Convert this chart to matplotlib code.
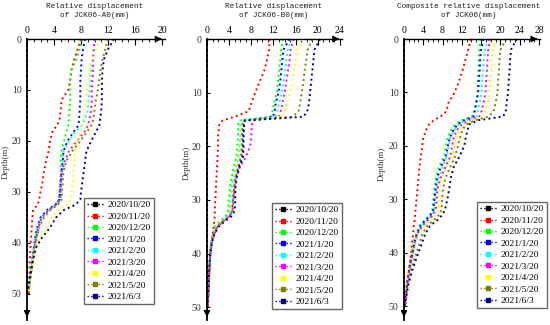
import matplotlib.pyplot as plt
from matplotlib.lines import Line2D
from matplotlib.ticker import MultipleLocator

plt.rcParams['font.family'] = 'Liberation Serif'

dates = ['2020/10/20', '2020/11/20', '2020/12/20', '2021/1/20', '2021/2/20',
         '2021/3/20', '2021/4/20', '2021/5/20', '2021/6/3']
colors = ['#000000', '#ff0000', '#00ff00', '#0000ff', '#00ffff',
          '#ff00ff', '#ffff00', '#808000', '#000080']

# JCK06-A0
depth_a = [0, 2, 4, 6, 8, 10, 12, 14, 16, 17, 18, 20, 22, 24, 26, 28, 30,
           31.5, 32.5, 33.5, 35, 37, 39, 41, 44, 47, 50]
a_1020 = [0, 0, 0, 0, 0, 0, 0, 0, 0, 0, 0, 0, 0, 0, 0, 0, 0, 0, 0, 0, 0, 0, 0, 0, 0, 0, 0]
a_1120 = [8.0, 7.5, 7.0, 6.6, 6.4, 6.1, 5.1, 5.0, 4.8, 4.4, 3.8, 3.4, 3.2, 2.8, 2.5, 2.3, 2.0,
          1.8, 1.6, 0.9, 0.8, 0.7, 0.6, 0.5, 0.4, 0.35, 0.3]
a_1220 = [8.2, 7.8, 7.3, 6.6, 6.4, 6.4, 6.4, 6.3, 6.2, 6.1, 5.9, 5.5, 5.1, 5.0, 5.0, 4.9, 4.8,
          4.7, 4.3, 3.2, 2.2, 1.6, 1.3, 1.1, 0.8, 0.5, 0.2]
a_0120 = [8.6, 8.3, 8.1, 8.0, 7.9, 7.9, 7.9, 7.8, 7.7, 7.6, 7.0, 6.0, 5.4, 5.3, 5.1, 5.0, 4.9,
          4.8, 4.2, 3.0, 2.0, 1.5, 1.2, 1.0, 0.7, 0.4, 0.1]
a_0220 = [10.1, 9.9, 9.7, 9.5, 9.4, 9.3, 9.1, 9.0, 8.5, 8.1, 7.3, 6.2, 5.4, 5.3, 5.2, 5.1, 5.1,
          5.0, 4.5, 3.3, 2.1, 1.5, 1.2, 1.0, 0.7, 0.4, 0.1]
a_0320 = [10.0, 9.9, 9.8, 9.8, 9.7, 9.6, 9.6, 9.5, 9.2, 9.0, 8.6, 7.4, 6.2, 5.6, 5.2, 5.0, 4.9,
          4.8, 4.3, 3.2, 2.2, 1.7, 1.4, 1.1, 0.8, 0.5, 0.2]
a_0420 = [10.8, 10.2, 9.7, 9.3, 9.1, 8.9, 8.7, 8.5, 8.3, 8.2, 8.0, 7.4, 7.1, 7.0, 6.9, 6.8, 6.6,
          6.5, 6.0, 4.5, 3.7, 2.9, 1.9, 1.2, 0.8, 0.5, 0.2]
a_0520 = [12.0, 11.6, 11.2, 10.9, 10.7, 10.5, 10.2, 10.0, 9.8, 9.5, 9.0, 7.9, 6.7, 5.8, 5.4, 5.3, 5.2,
          5.1, 4.6, 3.5, 2.5, 1.8, 1.4, 1.1, 0.8, 0.5, 0.2]
a_0603 = [12.9, 12.0, 11.4, 11.2, 11.1, 11.1, 11.1, 11.0, 10.8, 10.7, 10.3, 9.5, 8.8, 8.6, 8.4, 8.2, 8.0,
          7.9, 7.2, 5.5, 4.3, 3.4, 2.2, 1.3, 0.8, 0.4, 0.0]

# JCK06-B0
depth_b = [0, 2, 4, 6, 8, 10, 12, 13.5, 14.5, 15.2, 16, 18, 20, 22, 24, 26, 28, 30,
           32, 33, 34, 35, 36.5, 38, 40, 43, 46, 50]
b_1020 = [0, 0, 0, 0, 0, 0, 0, 0, 0, 0, 0, 0, 0, 0, 0, 0, 0, 0, 0, 0, 0, 0, 0, 0, 0, 0, 0, 0]
b_1120 = [11.3, 11.2, 10.8, 10.3, 9.5, 8.7, 8.0, 7.5, 5.0, 2.8, 2.2, 2.0, 2.0, 1.9, 1.8, 1.7, 1.6, 1.5,
          1.4, 1.4, 1.3, 1.2, 1.0, 0.8, 0.6, 0.5, 0.3, 0.2]
b_1220 = [13.7, 13.4, 13.2, 13.0, 12.8, 12.6, 12.1, 11.8, 11.5, 5.8, 5.6, 5.6, 5.5, 5.3, 4.8, 4.4, 4.1, 3.9,
          3.8, 3.4, 2.3, 1.4, 1.0, 0.7, 0.5, 0.4, 0.3, 0.1]
b_0120 = [14.9, 13.8, 13.6, 13.4, 13.2, 12.9, 12.4, 12.2, 11.9, 6.6, 6.6, 6.5, 6.5, 6.3, 5.6, 5.0, 4.8, 4.6,
          4.5, 4.0, 2.8, 1.8, 1.2, 0.8, 0.6, 0.4, 0.3, 0.1]
b_0220 = [15.2, 14.6, 14.3, 14.1, 13.8, 13.5, 13.0, 12.7, 12.4, 6.1, 6.0, 6.0, 5.9, 5.7, 5.2, 4.8, 4.4, 4.2,
          4.1, 3.7, 2.5, 1.6, 1.1, 0.8, 0.6, 0.4, 0.3, 0.1]
b_0320 = [15.6, 15.1, 14.9, 14.6, 14.3, 14.0, 13.6, 13.3, 13.0, 8.3, 8.1, 8.0, 7.8, 7.0, 5.9, 5.3, 5.0, 4.8,
          4.6, 4.1, 2.9, 1.9, 1.3, 0.9, 0.6, 0.4, 0.3, 0.1]
b_0420 = [17.1, 16.3, 16.0, 15.7, 15.3, 15.0, 14.4, 14.0, 13.6, 6.3, 6.2, 6.1, 6.0, 5.8, 5.3, 4.9, 4.6, 4.4,
          4.3, 3.8, 2.6, 1.6, 1.1, 0.8, 0.6, 0.4, 0.3, 0.1]
b_0520 = [19.0, 18.2, 17.9, 17.6, 17.4, 17.1, 16.8, 16.5, 15.5, 6.5, 6.4, 6.3, 6.3, 6.1, 5.6, 5.1, 4.9, 4.7,
          4.6, 4.1, 2.8, 1.8, 1.2, 0.8, 0.6, 0.4, 0.3, 0.1]
b_0603 = [20.4, 19.4, 19.2, 19.0, 18.8, 18.6, 18.4, 18.1, 17.4, 6.8, 6.7, 6.6, 6.6, 6.5, 5.8, 5.3, 5.1, 5.1,
          5.0, 4.5, 3.2, 2.1, 1.3, 0.9, 0.6, 0.4, 0.3, 0.1]

# composite JCK06
depth_c = [0, 2, 4, 6, 8, 10, 12, 13.5, 14.5, 15.2, 16, 17, 18.5, 20, 22, 24, 26, 28, 30,
           32, 33, 34, 35, 36.5, 38, 40, 43, 46, 50]
c_1020 = [0, 0, 0, 0, 0, 0, 0, 0, 0, 0, 0, 0, 0, 0, 0, 0, 0, 0, 0, 0, 0, 0, 0, 0, 0, 0, 0, 0, 0]
c_1120 = [13.9, 13.3, 12.7, 12.1, 11.4, 10.5, 9.2, 8.8, 7.6, 6.2, 5.2, 4.6, 4.0, 3.8, 3.5, 3.2, 3.0, 2.8, 2.6,
          2.4, 2.3, 2.2, 2.0, 1.9, 1.7, 1.5, 1.1, 0.7, 0.3]
c_1220 = [15.9, 15.6, 15.5, 15.4, 15.3, 15.3, 14.9, 14.5, 14.2, 12.0, 10.6, 9.8, 9.0, 8.7, 8.3, 7.2, 6.6, 6.3, 6.1,
          5.9, 5.3, 4.2, 3.2, 2.5, 2.0, 1.6, 1.0, 0.5, 0.1]
c_0120 = [16.5, 16.0, 15.8, 15.7, 15.5, 15.4, 15.0, 14.7, 14.4, 12.5, 11.1, 10.3, 9.5, 9.1, 8.7, 7.6, 6.9, 6.6, 6.3,
          6.1, 5.5, 4.4, 3.4, 2.7, 2.2, 1.8, 1.1, 0.6, 0.1]
c_0220 = [17.5, 16.8, 16.6, 16.4, 16.2, 16.1, 15.7, 15.3, 15.0, 12.8, 11.3, 10.5, 9.6, 9.3, 8.9, 8.0, 7.2, 6.8, 6.5,
          6.3, 5.8, 4.7, 3.6, 2.9, 2.4, 1.9, 1.2, 0.6, 0.1]
c_0320 = [17.8, 17.5, 17.3, 17.2, 17.0, 16.9, 16.5, 16.1, 15.6, 13.4, 12.0, 11.0, 10.3, 10.0, 9.6, 8.6, 7.6, 7.0, 6.8,
          6.6, 6.0, 4.9, 3.8, 2.7, 2.2, 1.8, 1.1, 0.6, 0.1]
c_0420 = [18.9, 18.5, 18.3, 18.1, 17.9, 17.8, 17.3, 16.9, 16.3, 14.0, 12.3, 11.5, 10.9, 10.5, 9.9, 8.8, 7.8, 7.5, 7.3,
          7.2, 6.6, 5.4, 4.2, 3.0, 2.1, 1.7, 1.0, 0.5, 0.1]
c_0520 = [21.2, 20.0, 19.8, 19.7, 19.5, 19.4, 19.0, 18.6, 17.6, 14.8, 12.9, 12.1, 11.6, 11.2, 10.6, 9.6, 8.6, 8.1, 7.9,
          7.8, 7.2, 6.1, 4.8, 3.8, 3.3, 2.6, 1.5, 0.8, 0.1]
c_0603 = [23.4, 22.2, 22.0, 21.9, 21.7, 21.6, 21.3, 21.1, 20.6, 15.5, 13.5, 13.2, 12.8, 12.5, 11.5, 10.3, 9.7, 9.4, 9.0,
          8.5, 7.9, 6.8, 5.4, 4.4, 3.8, 3.0, 1.8, 0.9, 0.1]

panels = [
    dict(depth=depth_a, series=[a_1020, a_1120, a_1220, a_0120, a_0220, a_0320, a_0420, a_0520, a_0603],
         title='Relative displacement\nof JCK06-A0(mm)', rect=[27, 137.7, 55.1], xmax=20.4, xtop=20,
         leg=(84, 198), ylab=(6, 162), tx=95),
    dict(depth=depth_b, series=[b_1020, b_1120, b_1220, b_0120, b_0220, b_0320, b_0420, b_0520, b_0603],
         title='Relative displacement\nof JCK06-B0(mm)', rect=[207, 135.2, 52.4], xmax=24.4, xtop=24,
         leg=(272, 203), ylab=(187, 163), tx=274),
    dict(depth=depth_c, series=[c_1020, c_1120, c_1220, c_0120, c_0220, c_0320, c_0420, c_0520, c_0603],
         title='Composite relative displacement\nof JCK06(mm)', rect=[404, 136.4, 52.6], xmax=28.3, xtop=28,
         leg=(477, 202), ylab=(382, 164), tx=469),
]

W, H = 550, 325
fig = plt.figure(figsize=(5.5, 3.25), dpi=100)

for p in panels:
    left, width, ymax = p['rect']
    ax = fig.add_axes([left / W, 5 / H, width / W, (320 - 39) / H])
    for vals, c in zip(p['series'], colors):
        ax.plot(vals, p['depth'], color=c, ls=':', lw=1.4, clip_on=False)
    ax.set_xlim(0, p['xmax'])
    ax.set_ylim(ymax, 0)

    ax.spines['right'].set_visible(False)
    ax.spines['bottom'].set_visible(False)
    ax.spines['left'].set_linewidth(1.3)
    ax.spines['top'].set_linewidth(1.0)
    ax.xaxis.tick_top()
    ax.set_xticks(range(0, p['xtop'] + 1, 4))
    ax.xaxis.set_minor_locator(MultipleLocator(1))
    ax.set_yticks([0, 10, 20, 30, 40, 50])
    ax.tick_params(axis='x', which='major', direction='in', length=4, pad=3, labelsize=7)
    ax.tick_params(axis='x', which='minor', direction='in', length=2)
    ax.tick_params(axis='y', direction='in', length=2, pad=4, labelsize=7, labelcolor='#333333')

    # arrow heads at the ends of the axes
    ax.annotate('', xy=(1.0, 1.0), xytext=(0.94, 1.0), xycoords='axes fraction',
                arrowprops=dict(arrowstyle='-|>', color='k', lw=1, mutation_scale=9))
    ax.annotate('', xy=(0.0, 0.0), xytext=(0.0, 0.04), xycoords='axes fraction',
                arrowprops=dict(arrowstyle='-|>', color='k', lw=1, mutation_scale=9))

    fig.text(p['tx'] / W, 1 - 11 / H, p['title'], ha='center', va='center',
             family='Liberation Mono', fontsize=5.6, linespacing=1.3, color='#222222')
    fig.text(p['ylab'][0] / W, 1 - p['ylab'][1] / H, 'Depth(m)', rotation=90,
             ha='center', va='center', fontsize=6.3, color='#333333')

    handles = [Line2D([], [], color=c, ls=':', lw=1, marker='s', ms=2.2) for c in colors]
    fig.legend(handles, dates, loc='upper left',
               bbox_to_anchor=(p['leg'][0] / W, 1 - p['leg'][1] / H),
               fontsize=6.8, frameon=True, fancybox=False, edgecolor='#666666',
               framealpha=1, handlelength=1.8, handletextpad=0.4, labelspacing=0.3,
               borderpad=0.3, borderaxespad=0, numpoints=1)

fig.savefig('out.png', dpi=100)
